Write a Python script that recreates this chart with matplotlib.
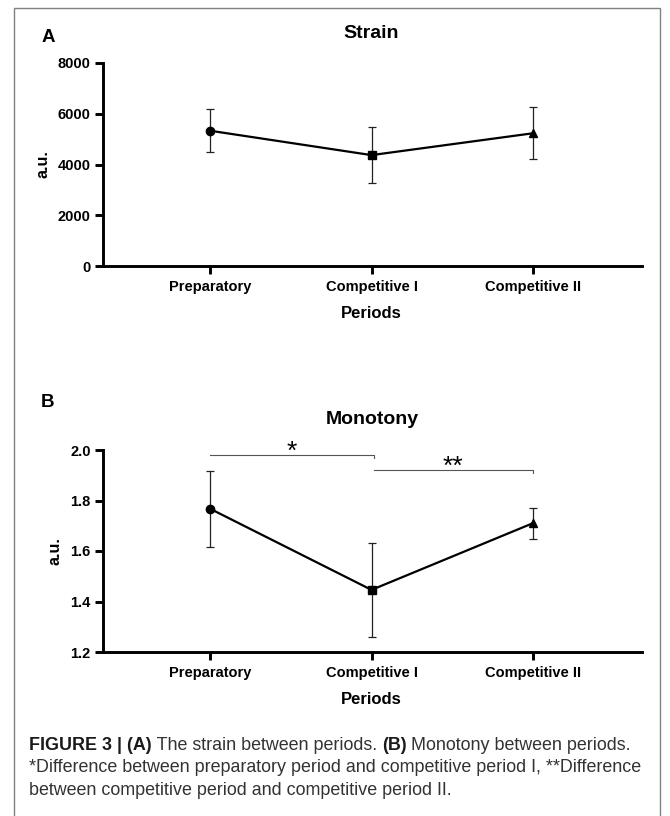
import matplotlib
matplotlib.use("Agg")
import matplotlib.pyplot as plt
from matplotlib.patches import Rectangle

plt.rcParams["font.family"] = ["Liberation Sans", "DejaVu Sans"]

periodos = ["Preparatory", "Competitive I", "Competitive II"]
marcadores = ["o", "s", "^"]

strain_media = [5330, 4370, 5230]
strain_de = [840, 1110, 1025]

monotonia_media = [1.767, 1.446, 1.710]
monotonia_de = [0.150, 0.187, 0.062]

strain_ticks = [0, 2000, 4000, 6000, 8000]
monotonia_ticks = [1.2, 1.4, 1.6, 1.8, 2.0]

# comparaciones significativas: (desde, hasta, altura, etiqueta)
comparaciones = [(0, 1.015, 1.980, "*"), (1.015, 2, 1.921, "**")]

W, H = 670, 816


def px(x, y):
    # pixeles de la imagen -> fraccion de figura
    return x / W, 1 - y / H


fig = plt.figure(figsize=(W / 100, H / 100), dpi=100)

# marco gris alrededor de todo
fig.patches.append(Rectangle((14 / W, -0.01), (660 - 14) / W, 1 - 8 / H + 0.01,
                             transform=fig.transFigure, fill=False,
                             edgecolor="#808080", linewidth=1))

ax1 = fig.add_axes([103 / W, 1 - 266 / H, (642 - 103) / W, (266 - 63) / H])
ax2 = fig.add_axes([103 / W, 1 - 652 / H, (642 - 103) / W, (652 - 450) / H])


def dibujar(ax, medias, des, ticks, etiqueta_y, x_ylabel):
    x = list(range(len(periodos)))
    ax.errorbar(x, medias, yerr=des, fmt="none", ecolor="#222222",
                elinewidth=0.9, capsize=3, capthick=0.9, zorder=2)
    ax.plot(x, medias, color="black", linewidth=1.6, zorder=3)
    for i in x:
        ax.plot(x[i], medias[i], marker=marcadores[i], markersize=6,
                color="black", linestyle="none", zorder=4)
    ax.set_xlim(-0.665, 2.677)
    ax.set_ylim(ticks[0], ticks[-1])
    ax.set_yticks(ticks)
    ax.set_xticks(x)
    ax.set_xticklabels(periodos)
    for lado in ["top", "right"]:
        ax.spines[lado].set_visible(False)
    for lado in ["left", "bottom"]:
        ax.spines[lado].set_linewidth(2.1)
    ax.tick_params(axis="both", width=2.1, length=6, labelsize=10.5)
    ax.tick_params(axis="x", pad=4.3)
    ax.tick_params(axis="y", pad=2.9)
    for t in ax.get_xticklabels() + ax.get_yticklabels():
        t.set_fontweight("bold")
    fx, fy = px(x_ylabel, 0)
    pos = ax.get_position()
    fig.text(fx, (pos.y0 + pos.y1) / 2, etiqueta_y, rotation=90, ha="center",
             va="center", fontsize=11.5, fontweight="bold")


dibujar(ax1, strain_media, strain_de, strain_ticks, "a.u.", 43)
dibujar(ax2, monotonia_media, monotonia_de, monotonia_ticks, "a.u.", 55)
ax2.yaxis.set_major_formatter(matplotlib.ticker.FormatStrFormatter("%.1f"))

for a, b, h, txt in comparaciones:
    ax2.plot([a, b, b], [h, h, h - 0.012], color="#555555", linewidth=0.8,
             clip_on=False, zorder=1)
    ax2.annotate(txt, xy=((a + b) / 2, h), xytext=(0, -2.5),
                 textcoords="offset points", ha="center", va="baseline",
                 fontsize=19, annotation_clip=False)

# titulos y etiquetas
fig.text(*px(48, 41.7), "A", ha="center", va="baseline", fontsize=13.5, fontweight="bold")
fig.text(*px(48, 407), "B", ha="center", va="baseline", fontsize=13.5, fontweight="bold")
fig.text(*px(371, 38.3), "Strain", ha="center", va="baseline", fontsize=14, fontweight="bold")
fig.text(*px(372, 424), "Monotony", ha="center", va="baseline", fontsize=14, fontweight="bold")
fig.text(*px(371, 318.3), "Periods", ha="center", va="baseline", fontsize=12, fontweight="bold")
fig.text(*px(371, 704), "Periods", ha="center", va="baseline", fontsize=12, fontweight="bold")

# leyenda de la figura, con partes en negrita
lineas = [
    [("FIGURE 3 | (A)", "bold"), (" The strain between periods. ", "normal"),
     ("(B)", "bold"), (" Monotony between periods.", "normal")],
    [("*Difference between preparatory period and competitive period I, **Difference", "normal")],
    [("between competitive period and competitive period II.", "normal")],
]
bases = [750, 772.5, 795]

renderer = fig.canvas.get_renderer()
for partes, base in zip(lineas, bases):
    x0 = 29
    for texto, peso in partes:
        t = fig.text(*px(x0, base), texto, ha="left", va="baseline",
                     fontsize=12.9, fontweight=peso,
                     color="#1a1a1a" if peso == "bold" else "#333333")
        x0 += t.get_window_extent(renderer).width

fig.savefig("out.png", dpi=100)
